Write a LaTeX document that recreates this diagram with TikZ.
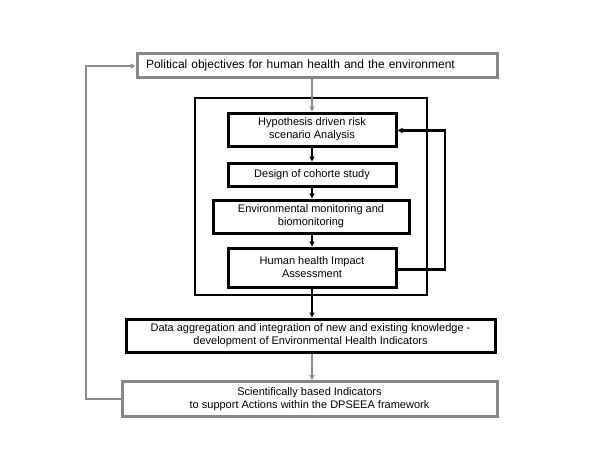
\documentclass[tikz,border=0pt]{standalone}
\usepackage{fontspec}
\setmainfont{Liberation Sans}
\usetikzlibrary{arrows.meta}
\definecolor{bgray}{HTML}{878787}
\definecolor{agray}{HTML}{8C8C8C}
\begin{document}
\begin{tikzpicture}[x=1pt,y=-1pt,
  txt/.style={font=\fontsize{11}{13}\selectfont, align=center, inner sep=0pt},
  graybox/.style={draw=bgray, line width=3pt, rectangle},
  blackbox/.style={draw=black, line width=3pt, rectangle},
  framebox/.style={draw=black, line width=2pt, rectangle, inner sep=0pt},
  garrow/.style={draw=agray, line width=2pt, -{Triangle[length=5pt,width=5pt]}},
  barrow/.style={draw=black, line width=2pt, -{Triangle[length=5pt,width=5pt]}},
  fbarrow/.style={draw=black, line width=2.6pt, -{Triangle[length=5pt,width=5pt]}}]
\useasboundingbox (0,0) rectangle (600,461);
\node[graybox, font=\fontsize{12}{14}\selectfont, text width=342pt, inner xsep=9pt, inner ysep=0pt, align=left, minimum height=24pt] (top) at (317,65) {Political objectives for human health and the environment};
\node[framebox, minimum width=232pt, minimum height=197pt] (frame) at (311,196.5) {};
\node[blackbox, txt, minimum width=168pt, minimum height=33pt] (hyp) at (312,129.5) {Hypothesis driven risk\\scenario Analysis};
\node[blackbox, txt, minimum width=168pt, minimum height=23pt] (design) at (312,174.5) {Design of cohorte study};
\node[blackbox, txt, minimum width=196pt, minimum height=33pt] (env) at (311,216.5) {Environmental monitoring and\\biomonitoring};
\node[blackbox, txt, minimum width=168pt, minimum height=39pt] (human) at (312,267.5) {Human health Impact\\Assessment};
\node[blackbox, txt, minimum width=369pt, minimum height=33pt] (data) at (310.5,335.5) {Data aggregation and integration of new and existing knowledge -\\development of Environmental Health Indicators};
\node[graybox, txt, minimum width=375pt, minimum height=35pt] (bottom) at (309.5,399) {Scientifically based Indicators\\to support Actions within the DPSEEA framework};
\coordinate (fbx) at (445,0);
\coordinate (lbx) at (86,0);
\draw[garrow] (top.south -| hyp.north) -- (hyp.north);
\draw[barrow] (hyp.south) -- (design.north);
\draw[barrow] (design.south) -- (env.north -| design.south);
\draw[barrow] (env.south -| human.north) -- (human.north);
\draw[barrow] (human.south) -- (data.north -| human.south);
\draw[garrow] (data.south -| human.south) -- (bottom.north -| human.south);
\draw[fbarrow] ([yshift=-2pt]human.east) -- ([yshift=-2pt]human.east -| fbx) -- ([yshift=-1pt]hyp.east -| fbx) -- ([yshift=-1pt]hyp.east);
\draw[garrow] (bottom.west) -- (bottom.west -| lbx) -- ([yshift=-1pt]top.west -| lbx) -- ([yshift=-1pt]top.west);
\end{tikzpicture}
\end{document}
